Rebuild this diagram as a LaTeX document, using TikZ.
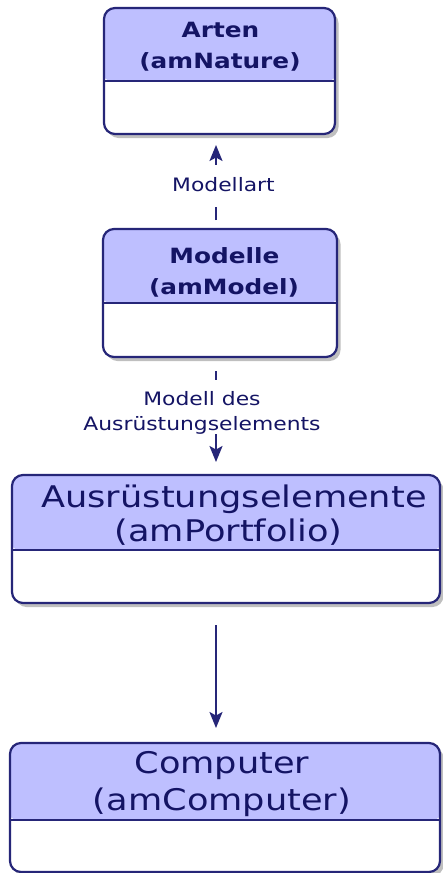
\documentclass[tikz,border=0pt]{standalone}
\usepackage{fontspec}
\setmainfont{DejaVu Sans}[FakeStretch=1.18]
\usetikzlibrary{shadows,arrows.meta}
\definecolor{navy}{RGB}{38,38,120}
\definecolor{txt}{RGB}{20,20,100}
\definecolor{hdr}{RGB}{190,191,255}
\tikzset{
  tbox/.style={draw=navy, line width=2.2pt, rounded corners=11pt, fill=white,
    drop shadow={shadow xshift=3.5pt,shadow yshift=-4pt,opacity=0.5,fill=black!50},
    inner sep=0pt, outer sep=0pt},
  hbox/.style={tbox, path picture={
      \fill[hdr] ([xshift=-3pt,yshift=3pt]path picture bounding box.north west) rectangle ([xshift=3pt,yshift=-#1]path picture bounding box.north east);}},
  sep/.style={draw=navy, line width=2.2pt},
  bt/.style={text=txt, inner sep=0pt, anchor=base, font=\fontsize{21}{26}\selectfont\bfseries},
  big/.style={text=txt, inner sep=0pt, anchor=base, font=\fontsize{29.8}{34}\selectfont},
  lbl/.style={text=txt, inner sep=0pt, align=center, font=\fontsize{18.5}{25}\selectfont},
  conn/.style={draw=navy, line width=2pt},
  arr/.style={conn, -{Stealth[length=16pt,width=13pt,inset=3.5pt]}},
}
\begin{document}
\begin{tikzpicture}[x=1pt,y=-1pt]
\useasboundingbox[fill=white] (0,0) rectangle (443,873);
% boxes
\node[hbox=73pt, minimum width=231pt, minimum height=126pt] (a) at (219.5,71) {};
\node[hbox=74pt, minimum width=234pt, minimum height=128pt] (m) at (220,293) {};
\node[hbox=75pt, minimum width=428pt, minimum height=128pt] (p) at (226,539) {};
\node[hbox=77pt, minimum width=430pt, minimum height=129pt] (c) at (225,807.5) {};
% separators
\draw[sep] ([yshift=-73pt]a.north west) -- ([yshift=-73pt]a.north east);
\draw[sep] ([yshift=-74pt]m.north west) -- ([yshift=-74pt]m.north east);
\draw[sep] ([yshift=-75pt]p.north west) -- ([yshift=-75pt]p.north east);
\draw[sep] ([yshift=-77pt]c.north west) -- ([yshift=-77pt]c.north east);
% titles
\node[bt] (a1) at (220.5,37) {Arten};
\node[bt] (a2) at (220,68) {(amNature)};
\node[bt] (m1) at (224.5,263) {Modelle};
\node[bt] (m2) at (224,294) {(amModel)};
\node[big] (p1) at (234,507) {Ausrüstungselemente};
\node[big] (p2) at (228.5,541) {(amPortfolio)};
\node[big] (c1) at (222,773) {Computer};
\node[big] (c2) at (222,810) {(amComputer)};
% labels
\coordinate (col) at (216,0);
\node[lbl, text height=14pt, text depth=4pt, anchor=base] (l1) at (223.5,191) {Modellart};
\node[lbl, anchor=north] (l2) at (202,391) {Modell des\\Ausrüstungselements};
% connectors
\draw[conn, shorten <=9pt, shorten >=12pt] (col |- m.north) -- (col |- l1.south);
\draw[arr, shorten <=12pt, shorten >=11pt] (col |- l1.north) -- (col |- a.south);
\draw[conn, shorten <=14pt, shorten >=11pt] (col |- m.south) -- (col |- l2.north);
\draw[arr, shorten >=13pt] (col |- l2.south) -- (col |- p.north);
\draw[arr, shorten <=22pt, shorten >=15pt] (col |- p.south) -- (col |- c.north);
\end{tikzpicture}
\end{document}
